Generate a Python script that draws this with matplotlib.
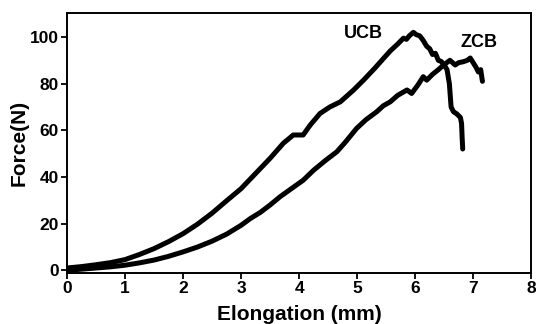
"""Force vs elongation curves for UCB and ZCB."""

import matplotlib
matplotlib.use("Agg")
import matplotlib.pyplot as plt

# ── Data ──────────────────────────────────────────────────────────────────────
ucb_x = [0.0, 0.25, 0.5, 0.75, 1.0, 1.25, 1.5, 1.75, 2.0, 2.25, 2.5, 2.75,
         3.0, 3.25, 3.5, 3.73, 3.9, 4.07, 4.19, 4.36, 4.53, 4.71, 4.94, 5.11,
         5.3, 5.57, 5.7, 5.8, 5.85, 5.9, 5.97, 6.02, 6.08, 6.14, 6.2, 6.25,
         6.3, 6.35, 6.4, 6.45, 6.5, 6.55, 6.59, 6.62, 6.66, 6.72, 6.78, 6.8,
         6.81, 6.82]
ucb_y = [1.0, 1.6, 2.4, 3.3, 4.6, 6.8, 9.3, 12.3, 15.7, 19.8, 24.5, 29.8,
         35.0, 41.5, 48.0, 54.5, 58.0, 58.0, 62.2, 67.2, 70.0, 72.2, 77.3, 81.5,
         86.5, 94.0, 97.0, 99.5, 99.0, 100.5, 102.0, 101.0, 100.5, 98.5, 96.0,
         95.0, 92.5, 93.0, 90.0, 89.5, 88.0, 86.0, 80.0, 70.0, 68.0, 67.0, 65.5,
         63.0, 57.0, 52.0]

zcb_x = [0.0, 0.25, 0.5, 0.75, 1.0, 1.25, 1.5, 1.75, 2.0, 2.25, 2.5, 2.75,
         3.0, 3.16, 3.33, 3.5, 3.67, 4.07, 4.25, 4.45, 4.65, 4.8, 4.99, 5.15,
         5.34, 5.45, 5.57, 5.7, 5.86, 5.94, 6.05, 6.14, 6.2, 6.3, 6.4, 6.49,
         6.6, 6.69, 6.75, 6.83, 6.9, 6.95, 7.0, 7.05, 7.09, 7.13, 7.16]
zcb_y = [0.0, 0.5, 1.0, 1.5, 2.2, 3.2, 4.4, 6.0, 7.9, 10.0, 12.5, 15.5,
         19.3, 22.2, 24.8, 28.0, 31.5, 38.6, 42.9, 47.0, 50.8, 55.0, 60.8, 64.5,
         68.0, 70.5, 72.2, 75.0, 77.3, 75.8, 79.5, 83.0, 81.5, 84.0, 86.0, 88.0,
         90.0, 88.0, 89.0, 89.4, 90.0, 91.0, 89.0, 87.0, 85.0, 86.0, 81.0]

x_ticks = [0, 1, 2, 3, 4, 5, 6, 7, 8]
y_ticks = [0, 20, 40, 60, 80, 100]

plt.rcParams["font.family"] = ["Liberation Sans", "DejaVu Sans"]
plt.rcParams["font.weight"] = "bold"

fig = plt.figure(figsize=(5.36, 3.24), dpi=100)
ax = fig.add_axes([0.125, 0.157, 0.866, 0.803])

ax.plot(ucb_x, ucb_y, color="black", lw=3.6, solid_capstyle="round",
        solid_joinstyle="round")
ax.plot(zcb_x, zcb_y, color="black", lw=3.6, solid_capstyle="round",
        solid_joinstyle="round")

ax.text(5.1, 101.5, "UCB", ha="center", va="center", fontsize=13,
        fontweight="bold")
ax.text(7.1, 97.5, "ZCB", ha="center", va="center", fontsize=13,
        fontweight="bold")

ax.set_xlim(0, 8)
ax.set_ylim(-1.2, 110.3)
ax.set_xticks(x_ticks)
ax.set_yticks(y_ticks)
ax.tick_params(direction="out", length=4, width=1.3, labelsize=12.5, pad=2)
for lab in ax.get_xticklabels() + ax.get_yticklabels():
    lab.set_fontweight("bold")
for sp in ax.spines.values():
    sp.set_linewidth(1.4)

ax.set_xlabel("Elongation (mm)", fontsize=15, fontweight="bold", labelpad=6)
ax.set_ylabel("Force(N)", fontsize=15, fontweight="bold", labelpad=1)

fig.savefig("out.png", dpi=100, facecolor="white")
plt.close()
